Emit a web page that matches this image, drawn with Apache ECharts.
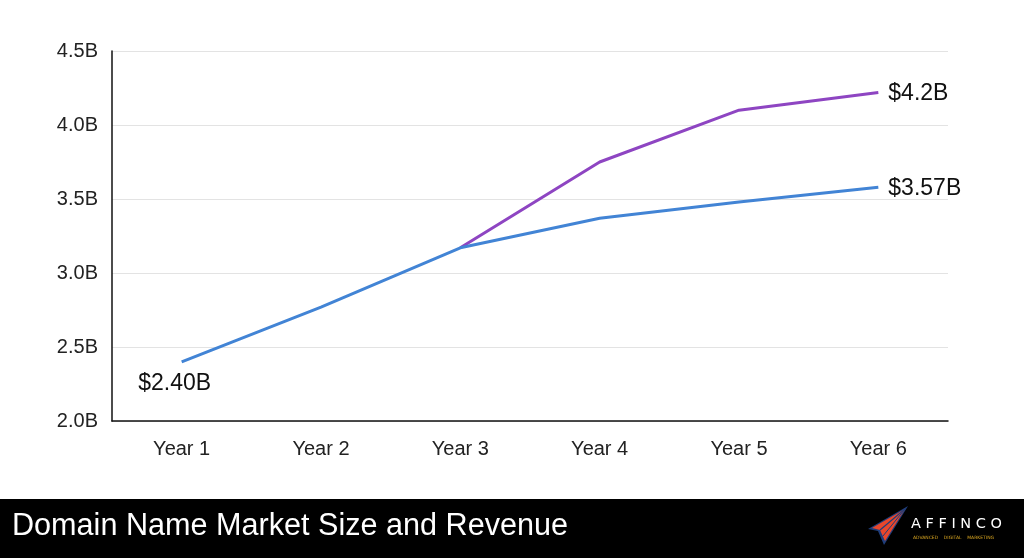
<!DOCTYPE html>
<html>
<head>
<meta charset="utf-8">
<script src="https://cdn.jsdelivr.net/npm/echarts@6/dist/echarts.min.js"></script>
<style>
html,body{margin:0;padding:0;background:#fff;}
#chart{width:1024px;height:558px;}
</style>
</head>
<body>
<div id="chart"></div>
<script>
const categories = ['Year 1','Year 2','Year 3','Year 4','Year 5','Year 6'];
const baseSeries = [2.40, 2.77, 3.17, 3.37, 3.48, 3.58];
const highSeries = [null, null, 3.17, 3.75, 4.10, 4.22];
const baseLabels = ['$2.40B', '', '', '', '', '$3.57B'];
const highLabels = ['', '', '', '', '', '$4.2B'];
const yTicks = [2.0, 2.5, 3.0, 3.5, 4.0, 4.5];
const title = 'Domain Name Market Size and Revenue';

const FONT = 'Liberation Sans, Arial, sans-serif';
const chart = echarts.init(document.getElementById('chart'));

function buildData(values, labels) {
  return values.map((v, i) => {
    const item = { value: v };
    if (labels[i]) {
      const isLast = i === values.length - 1;
      item.label = {
        show: true,
        formatter: labels[i],
        position: isLast ? 'right' : 'bottom',
        distance: isLast ? 10 : 9,
        offset: isLast ? [0, 1] : [-7, 1],
        fontSize: 23,
        color: '#111',
        fontFamily: FONT
      };
    }
    return item;
  });
}

chart.setOption({
  animation: false,
  backgroundColor: '#fff',
  grid: { left: 112, right: 76, top: 51, bottom: 137 },
  xAxis: {
    type: 'category',
    data: categories,
    boundaryGap: true,
    axisLine: { show: true, lineStyle: { color: '#111', width: 1.5 } },
    axisTick: { show: false },
    axisLabel: { color: '#222', fontSize: 20, margin: 18, fontFamily: FONT }
  },
  yAxis: {
    type: 'value',
    min: yTicks[0],
    max: yTicks[yTicks.length - 1],
    interval: 0.5,
    axisLine: { show: true, lineStyle: { color: '#111', width: 1.5 } },
    axisTick: { show: false },
    splitLine: { show: true, lineStyle: { color: '#e3e3e3', width: 1 } },
    axisLabel: {
      color: '#222', fontSize: 20, margin: 14, fontFamily: FONT,
      formatter: v => v.toFixed(1) + 'B'
    }
  },
  series: [
    {
      type: 'line',
      data: buildData(highSeries, highLabels),
      symbol: 'circle',
      symbolSize: 0,
      lineStyle: { color: '#8e45c2', width: 3 },
      itemStyle: { color: '#8e45c2' },
      z: 2
    },
    {
      type: 'line',
      data: buildData(baseSeries, baseLabels),
      symbol: 'circle',
      symbolSize: 0,
      lineStyle: { color: '#4284d5', width: 3 },
      itemStyle: { color: '#4284d5' },
      z: 3
    }
  ],
  graphic: [
    { type: 'rect', shape: { x: 0, y: 499, width: 1024, height: 59 }, style: { fill: '#000' } },
    { type: 'text', left: 12, top: 511, style: { text: title, fill: '#fff', fontSize: 30.6, fontFamily: FONT } },
    { type: 'polygon', shape: { points: [[908,506],[868,529],[878,531],[884,545]] }, style: { fill: '#1f3d7a' } },
    { type: 'polygon', shape: { points: [[905,509],[872,528],[880,530],[885,541]] }, style: { fill: '#e8472c' } },
    { type: 'polyline', shape: { points: [[905,509],[880,530]] }, style: { stroke: '#1f3d7a', lineWidth: 1.2 } },
    { type: 'polyline', shape: { points: [[905,509],[883,536]] }, style: { stroke: '#1f3d7a', lineWidth: 1 } },
    { type: 'text', left: 911, top: 517, style: { text: 'A F F I N C O', fill: '#fff', fontSize: 14.5, fontFamily: 'DejaVu Sans, sans-serif' } },
    { type: 'text', left: 913, top: 535, style: { text: 'ADVANCED    DIGITAL    MARKETING', fill: '#d9a520', fontSize: 4.5, fontFamily: 'DejaVu Sans, sans-serif' } }
  ]
});
</script>
</body>
</html>
